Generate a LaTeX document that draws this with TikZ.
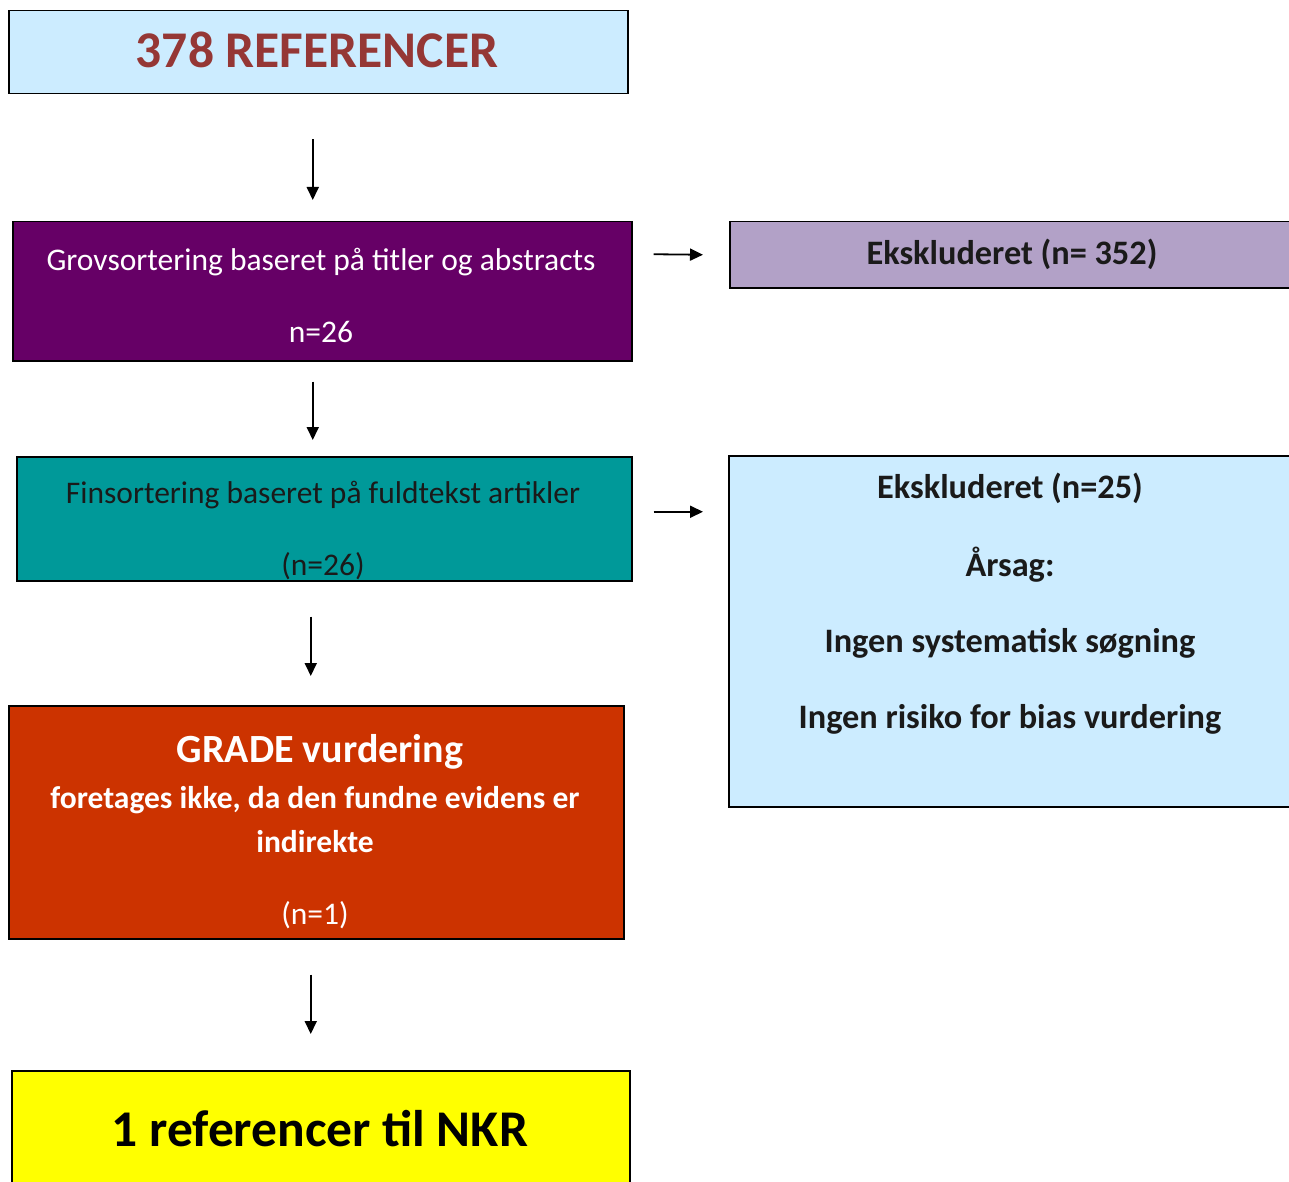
\documentclass[tikz,border=0pt]{standalone}
\usepackage{fontspec}
\setmainfont{Carlito}
\usetikzlibrary{arrows.meta,calc}
\definecolor{lblue}{HTML}{CCECFF}
\definecolor{darkred}{HTML}{953735}
\definecolor{plum}{HTML}{660066}
\definecolor{teal2}{HTML}{009999}
\definecolor{lav}{HTML}{B2A1C7}
\definecolor{rust}{HTML}{CC3300}
\definecolor{yel}{HTML}{FFFF00}
\definecolor{ink}{HTML}{1A1A1A}
\begin{document}
\begin{tikzpicture}[x=1pt,y=-1pt,
  box/.style={draw=black, line width=1.5pt, inner sep=0, anchor=north west},
  arr/.style={line width=1.8pt, -{Triangle[width=12pt,length=13pt]}},
  txt/.style={inner sep=0, anchor=base},
  fs/.style={font=\fontsize{#1}{#1}\selectfont},
  fsb/.style={font=\fontsize{#1}{#1}\selectfont\bfseries}]
\useasboundingbox (0,0) rectangle (1289,1182);
\clip (0,0) rectangle (1289,1182);
% boxes
\node[box, fill=lblue, minimum width=619, minimum height=83] (top) at (8,10) {};
\node[box, fill=plum, minimum width=619, minimum height=139] (grov) at (12,221) {};
\node[box, fill=teal2, minimum width=615, minimum height=124] (fin) at (16,456) {};
\node[box, fill=rust, minimum width=615, minimum height=233] (grade) at (8,705) {};
\node[box, fill=yel, minimum width=618, minimum height=140] (nkr) at (11,1070) {};
\node[box, fill=lav, minimum width=600, minimum height=66] (eks1) at (729,221) {};
\node[box, fill=lblue, minimum width=600, minimum height=351] (eks2) at (728,455) {};
% texts
\node[txt, fsb=51.5, text=darkred] (t1) at (317,68) {378 REFERENCER};
\node[txt, fs=31.5, text=white] (t2) at (321,270) {Grovsortering baseret på titler og abstracts};
\node[txt, fs=31.5, text=white] (t3) at (321,342) {n=26};
\node[txt, fs=31.5, text=ink] (t4) at (323,503) {Finsortering baseret på fuldtekst artikler};
\node[txt, fs=31.5, text=ink] (t5) at (323,575) {(n=26)};
\node[txt, fsb=34.3, text=ink] (t6) at (1012,265) {Ekskluderet (n= 352)};
\node[txt, fsb=40, text=white] (t7) at (320,762) {GRADE vurdering};
\node[txt, fsb=31.5, text=white] (t8) at (315,808) {foretages ikke, da den fundne evidens er};
\node[txt, fsb=31.5, text=white] (t9) at (315,852) {indirekte};
\node[txt, fs=31.5, text=white] (t10) at (315,924) {(n=1)};
\node[txt, fsb=51.5, text=black] (t11) at (320,1146) {1 referencer til NKR};
\node[txt, fsb=34.3, text=ink] (t12) at (1010,498) {Ekskluderet (n=25)};
\node[txt, fsb=34.3, text=ink] (t13) at (1010,576) {Årsag:};
\node[txt, fsb=34.3, text=ink] (t14) at (1010,652) {Ingen systematisk søgning};
\node[txt, fsb=34.3, text=ink] (t15) at (1010,728) {Ingen risiko for bias vurdering};
% arrows
\draw[arr] ($(top.south)+(-5.5,45)$) -- ($(grov.north)+(-9.5,-21)$);
\draw[arr] ($(grov.south)+(-9.5,20)$) -- ($(fin.north)+(-11.5,-16)$);
\draw[arr] ($(fin.south)+(-13.5,35)$) -- ($(grade.north)+(-5.5,-29)$);
\draw[arr] ($(grade.south)+(-5.5,35)$) -- ($(nkr.north)+(-10,-36)$);
\draw[arr] ($(grov.east)+(21,-37)$) -- ($(eks1.west)+(-26,0)$);
\draw[arr] ($(fin.east)+(21,-7)$) -- ($(eks2.west)+(-25,-119.5)$);
\end{tikzpicture}
\end{document}
